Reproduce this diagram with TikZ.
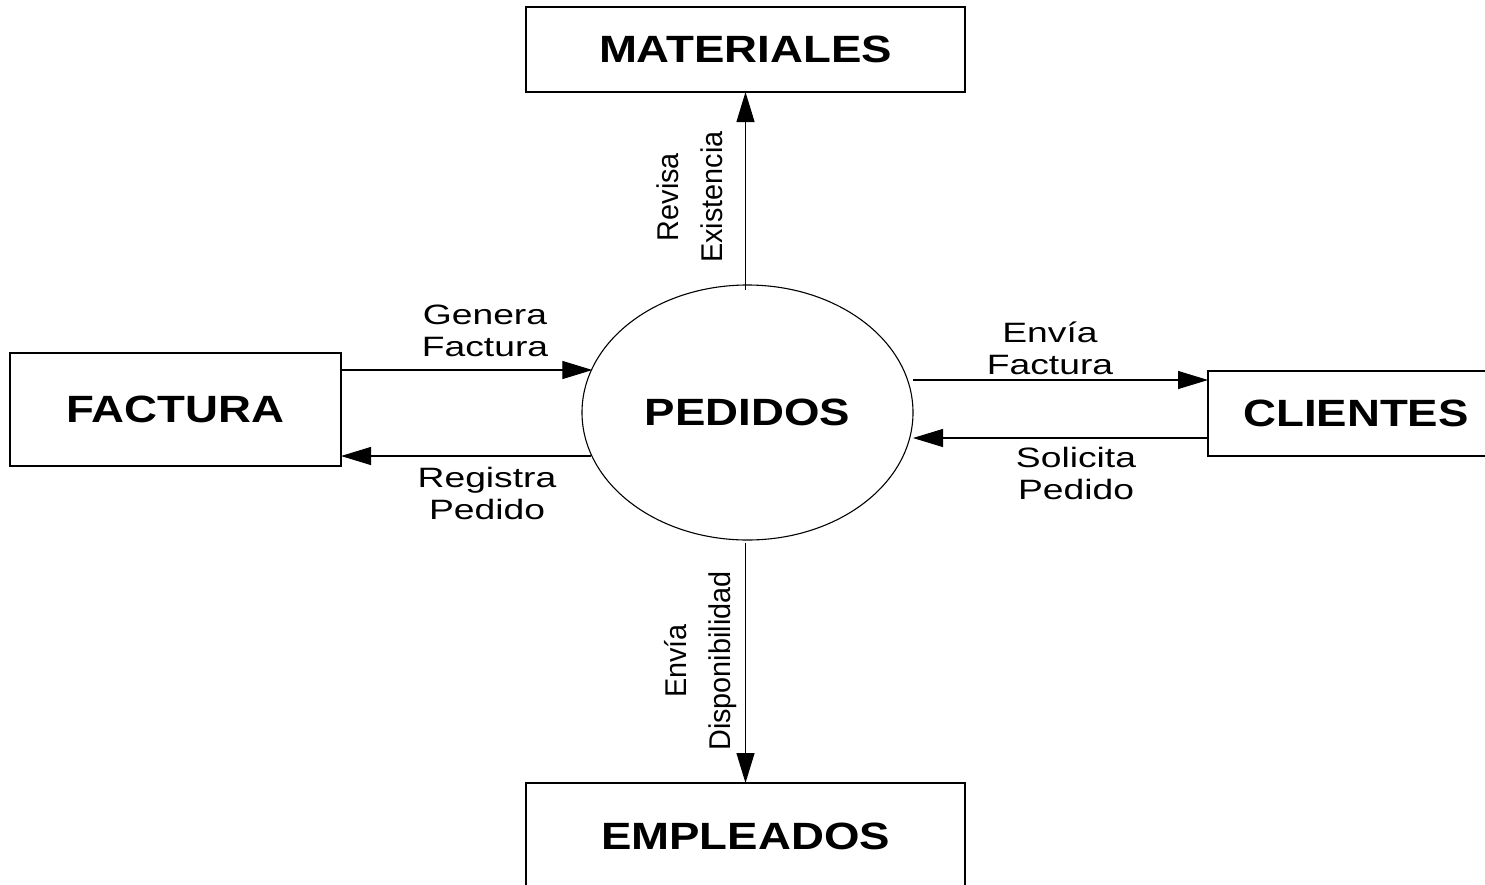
\documentclass[tikz,border=0pt]{standalone}
\usepackage{fontspec}
\setmainfont{Liberation Sans}
\newfontfamily\boxfont{Liberation Sans}[FakeStretch=1.2]
\newfontfamily\lblfont{Liberation Sans}[FakeStretch=1.33]
\newfontfamily\vlblfont{Liberation Sans}[FakeStretch=0.96]
\usetikzlibrary{arrows.meta,shapes.geometric}
\begin{document}
\begin{tikzpicture}[x=1pt,y=-1pt,
  ent/.style={draw, line width=1.1pt, inner sep=0pt, outer sep=0pt,
    font=\boxfont\bfseries\fontsize{38}{40}\selectfont},
  proc/.style={ellipse, draw, line width=1.1pt, inner sep=0pt, outer sep=0pt,
    minimum width=331pt, minimum height=255pt,
    font=\boxfont\bfseries\fontsize{38}{40}\selectfont},
  flow/.style={line width=1.1pt, -{Triangle[length=30pt,width=18pt]}},
  lbl/.style={font=\lblfont\fontsize{28}{32}\selectfont, align=center, anchor=base, inner sep=0pt},
  vlbl/.style={font=\vlblfont\fontsize{30}{44}\selectfont, align=center, anchor=base, inner sep=0pt, rotate=90}]
\useasboundingbox (0,0) rectangle (1485,884);
\clip (0,0) rectangle (1485,884);
% entities
\node[ent, minimum width=439pt, minimum height=85pt] (mat) at (745.5,49.5) {MATERIALES};
\node[ent, minimum width=331pt, minimum height=113pt] (fac) at (175.5,409.5) {FACTURA};
\node[ent, minimum width=296pt, minimum height=85pt] (cli) at (1356,413.5) {CLIENTES};
\node[ent, minimum width=439pt, minimum height=106pt] (emp) at (745.5,836) {EMPLEADOS};
% process
\node[proc] (ped) at (747.5,412.5) {PEDIDOS};
% helper coordinates for flow heights
\coordinate (yg) at (0,370);
\coordinate (yr) at (0,456);
\coordinate (ye) at (0,380);
\coordinate (ys) at (0,438);
% flows
\draw[flow] (fac.east |- yg) -- (ped.164.6 |- yg);
\draw[flow] (ped.195.8 |- yr) -- (fac.east |- yr);
\draw[flow] (ped.east |- ye) -- (cli.west |- ye);
\draw[flow] (cli.west |- ys) -- (ped.east |- ys);
\draw[flow] ([yshift=-5pt]ped.north -| mat.south) -- (mat.south);
\draw[flow] ([yshift=-3pt]ped.south -| emp.north) -- (emp.north);
% labels (anchor = baseline of the last line)
\node[lbl] (lg) at (485,356) {Genera\\Factura};
\node[lbl] (lr) at (487,519) {Registra\\Pedido};
\node[lbl] (le) at (1050,374) {Envía\\Factura};
\node[lbl] (ls) at (1076,499) {Solicita\\Pedido};
\node[vlbl] (lm) at (722,197) {Revisa\\Existencia};
\node[vlbl] (ld) at (730,661) {Envía\\Disponibilidad};
\end{tikzpicture}
\end{document}
